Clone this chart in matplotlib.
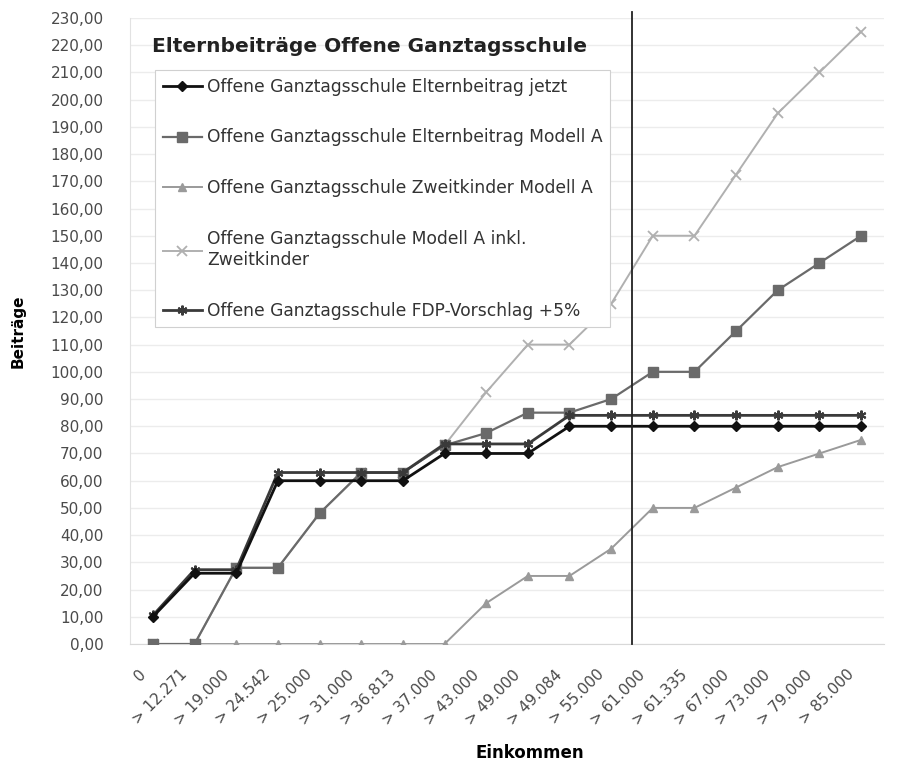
import matplotlib
matplotlib.use("Agg")
import matplotlib.pyplot as plt
import matplotlib.transforms as mtransforms
import numpy as np

plt.rcParams['font.family'] = ['DejaVu Sans']

categories = ["0", "> 12.271", "> 19.000", "> 24.542", "> 25.000", "> 31.000",
              "> 36.813", "> 37.000", "> 43.000", "> 49.000", "> 49.084", "> 55.000",
              "> 61.000", "> 61.335", "> 67.000", "> 73.000", "> 79.000", "> 85.000"]

jetzt = [10, 26, 26, 60, 60, 60, 60, 70, 70, 70, 80, 80, 80, 80, 80, 80, 80, 80]
modell_a = [0, 0, 28, 28, 48, 63, 63, 73, 77.5, 85, 85, 90, 100, 100, 115, 130, 140, 150]
zweitkinder = [0, 0, 0, 0, 0, 0, 0, 0, 15, 25, 25, 35, 50, 50, 57.5, 65, 70, 75]
inkl = [0, 0, 28, 28, 48, 63, 63, 73, 92.5, 110, 110, 125, 150, 150, 172.5, 195, 210, 225]
fdp = [10.5, 27.3, 27.3, 63, 63, 63, 63, 73.5, 73.5, 73.5, 84, 84, 84, 84, 84, 84, 84, 84]

labels = ["Offene Ganztagsschule Elternbeitrag jetzt",
          "Offene Ganztagsschule Elternbeitrag Modell A",
          "Offene Ganztagsschule Zweitkinder Modell A",
          "Offene Ganztagsschule Modell A inkl.\nZweitkinder",
          "Offene Ganztagsschule FDP-Vorschlag +5%"]

fig = plt.figure(figsize=(9.23, 7.62), dpi=100)
ax = fig.add_axes([130/923, 1-644/762, (884-130)/923, (644-18)/762])

x = np.arange(len(categories))
ax.plot(x, inkl, color='#b0b0b0', lw=1.4, marker='x', ms=7, mew=1.3, label=labels[3], zorder=3)
ax.plot(x, zweitkinder, color='#9a9a9a', lw=1.4, marker='^', ms=6, label=labels[2], zorder=3)
ax.plot(x, modell_a, color='#6a6a6a', lw=1.6, marker='s', ms=7.5, label=labels[1], zorder=4)
ax.plot(x, fdp, color='#3a3a3a', lw=2.0, marker=(6, 2, 0), ms=7, mew=1.5, label=labels[4], zorder=5)
ax.plot(x, jetzt, color='#111111', lw=2.0, marker='D', ms=5, label=labels[0], zorder=6)

ax.axvline(11.5, ymin=0, ymax=1.01, color='#222222', lw=1.3, clip_on=False, zorder=7)

ax.set_xlim(-0.55, len(categories) - 0.45)
ax.set_ylim(0, 230)
ax.set_yticks(np.arange(0, 231, 10))
ax.set_yticklabels([f"{v:.2f}".replace('.', ',') for v in np.arange(0, 231, 10)],
                   fontsize=11, color='#4a4a4a')
ax.set_xticks(x)
ax.set_xticklabels(categories, rotation=45, ha='right', va='top', rotation_mode='anchor',
                   fontsize=11, color='#4a4a4a')
ax.tick_params(axis='y', length=0, pad=19)
ax.tick_params(axis='x', length=0, pad=0)
offset = mtransforms.ScaledTranslation(-15/100, -23/100, fig.dpi_scale_trans)
for lab in ax.get_xticklabels():
    lab.set_transform(lab.get_transform() + offset)

ax.grid(axis='y', color='#ececec', lw=1.0)
ax.set_axisbelow(True)
for s in ['top', 'right']:
    ax.spines[s].set_visible(False)
ax.spines['left'].set_color('#e2e2e2')
ax.spines['bottom'].set_color('#d8d8d8')

ax.set_ylabel("Beiträge", fontsize=11, fontweight='bold')
ax.yaxis.set_label_coords((26-130)/754, 0.5)
ax.set_xlabel("Einkommen", fontsize=12, fontweight='bold', va='top')
ax.xaxis.set_label_coords((530-130)/754, (644-744)/626)

fig.text(152/923, 1-46/762, "Elternbeiträge Offene Ganztagsschule", fontsize=14.5,
         fontweight='bold', color='#222222', va='center', ha='left')

h, l = ax.get_legend_handles_labels()
order = [labels.index(t) for t in l]
pairs = sorted(zip(order, h, l))
leg = fig.legend([p[1] for p in pairs], [p[2] for p in pairs],
                 loc='upper left', bbox_to_anchor=(155/923, 1-70/762),
                 fontsize=12.3, labelspacing=1.92, handlelength=2.3,
                 handletextpad=0.3, borderpad=0.45, borderaxespad=0,
                 frameon=True, fancybox=False,
                 edgecolor='#d0d0d0', framealpha=1, labelcolor='#333333')
leg.get_frame().set_linewidth(0.8)

fig.savefig("out.png", dpi=100)
